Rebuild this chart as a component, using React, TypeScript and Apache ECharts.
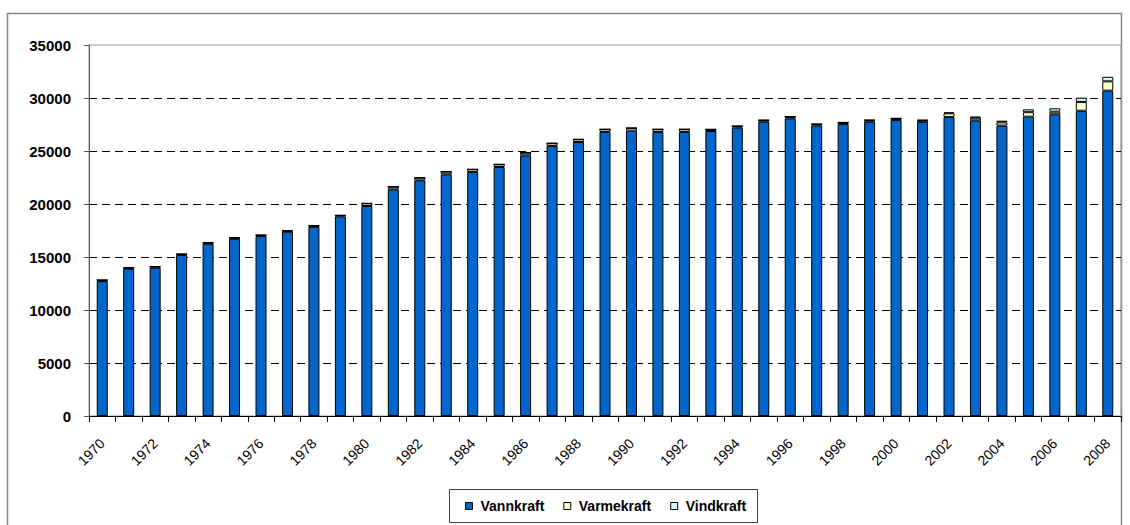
import React, { useEffect, useRef } from "react";
import * as echarts from "echarts";

const years = [
  "1970", "1971", "1972", "1973", "1974", "1975", "1976", "1977", "1978", "1979",
  "1980", "1981", "1982", "1983", "1984", "1985", "1986", "1987", "1988", "1989",
  "1990", "1991", "1992", "1993", "1994", "1995", "1996", "1997", "1998", "1999",
  "2000", "2001", "2002", "2003", "2004", "2005", "2006", "2007", "2008",
];

const vannkraft = [
  12730, 13890, 13990, 15180, 16250, 16720, 16970, 17380, 17850, 18830,
  19810, 21380, 22230, 22800, 23020, 23490, 24590, 25480, 25850, 26800,
  26920, 26800, 26800, 26890, 27200, 27760, 28080, 27390, 27540, 27760,
  27920, 27750, 28200, 27890, 27400, 28240, 28460, 28800, 30690,
];

const varmekraft = [
  100, 100, 100, 100, 100, 100, 100, 100, 100, 100,
  250, 250, 250, 250, 250, 250, 250, 250, 250, 250,
  250, 250, 250, 150, 150, 150, 150, 150, 150, 150,
  150, 150, 350, 250, 300, 420, 250, 830, 880,
];

const vindkraft = [
  0, 0, 0, 0, 0, 0, 0, 0, 0, 0,
  0, 0, 0, 0, 0, 0, 0, 0, 0, 0,
  0, 0, 0, 5, 5, 5, 5, 5, 10, 10,
  13, 17, 100, 100, 160, 270, 320, 400, 430,
];

const yTicks = { min: 0, max: 35000, interval: 5000 };

const FONT = '"Liberation Sans", Arial, sans-serif';

export default function App() {
  const ref = useRef<HTMLDivElement>(null);

  useEffect(() => {
    if (!ref.current) return;
    const chart = echarts.init(ref.current, null, { renderer: "svg" });
    const barStyle = (color: string) => ({
      color,
      borderColor: "#000",
      borderWidth: 1,
    });
    chart.setOption({
      animation: false,
      backgroundColor: "#fff",
      textStyle: { fontFamily: FONT, color: "#000" },
      graphic: [
        {
          type: "rect",
          shape: { x: 7.5, y: 13.5, width: 1114, height: 530 },
          style: { fill: "none", stroke: "#888", lineWidth: 1.5 },
          silent: true,
          z: -10,
        },
        {
          type: "rect",
          shape: { x: 449.5, y: 489.5, width: 308, height: 33 },
          style: { fill: "#fff", stroke: "#444", lineWidth: 1 },
          silent: true,
          z: -5,
        },
      ],
      grid: {
        left: 89,
        top: 45,
        right: 9,
        bottom: 109,
        show: true,
        borderColor: "#999",
        borderWidth: 1,
        containLabel: false,
      },
      legend: {
        data: ["Vannkraft", "Varmekraft", "Vindkraft"],
        left: 465,
        top: 499,
        padding: 0,
        itemWidth: 7,
        itemHeight: 7,
        itemGap: 19,
        icon: "rect",
        itemStyle: { borderColor: "#000", borderWidth: 1 },
        textStyle: {
          fontFamily: FONT,
          fontWeight: "bold",
          fontSize: 14,
          color: "#000",
          padding: [0, 0, 0, 3],
        },
        selectedMode: false,
      },
      xAxis: {
        type: "category",
        data: years,
        boundaryGap: true,
        axisLine: { show: true, lineStyle: { color: "#000", width: 1 } },
        axisTick: {
          show: true,
          interval: 0,
          length: 6,
          lineStyle: { color: "#000" },
        },
        axisLabel: {
          interval: 1,
          rotate: 45,
          margin: 25,
          fontFamily: FONT,
          fontSize: 14,
          color: "#000",
        },
        splitLine: { show: false },
      },
      yAxis: {
        type: "value",
        min: yTicks.min,
        max: yTicks.max,
        interval: yTicks.interval,
        axisLine: { show: true, lineStyle: { color: "#555", width: 1 } },
        axisTick: { show: true, length: 5, lineStyle: { color: "#555" } },
        axisLabel: {
          margin: 18,
          fontFamily: FONT,
          fontWeight: "bold",
          fontSize: 15,
          color: "#000",
          formatter: (v: number) => String(v),
        },
        splitLine: {
          show: true,
          showMinLine: false,
          showMaxLine: false,
          lineStyle: { color: "#000", type: [8, 5], width: 1 },
        },
      },
      series: [
        {
          name: "Vannkraft",
          type: "bar",
          stack: "total",
          barWidth: 11,
          data: vannkraft,
          itemStyle: barStyle("#0066CC"),
        },
        {
          name: "Varmekraft",
          type: "bar",
          stack: "total",
          barWidth: 11,
          data: varmekraft,
          itemStyle: barStyle("#FFFFCC"),
        },
        {
          name: "Vindkraft",
          type: "bar",
          stack: "total",
          barWidth: 11,
          data: vindkraft,
          itemStyle: barStyle("#CCFFFF"),
        },
      ],
    });
    return () => chart.dispose();
  }, []);

  return (
    <div
      ref={ref}
      style={{
        position: "absolute",
        left: 0,
        top: 0,
        width: 1130,
        height: 525,
        background: "#fff",
      }}
    />
  );
}
